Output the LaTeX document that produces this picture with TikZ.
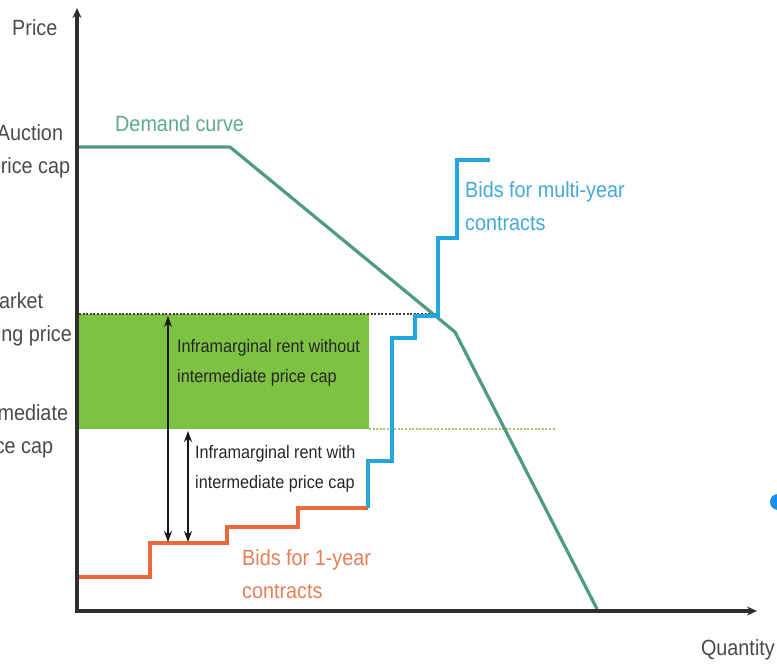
\documentclass[tikz,border=0pt]{standalone}
\usepackage{fontspec}
\setmainfont[FakeStretch=0.9]{Liberation Sans}
\usetikzlibrary{arrows.meta}

\definecolor{axisgray}{HTML}{2E2E2E}
\definecolor{labelgray}{HTML}{4A4A4A}
\definecolor{demandteal}{HTML}{4E9A82}
\definecolor{demandtext}{HTML}{5FA894}
\definecolor{bidblue}{HTML}{22A6DF}
\definecolor{bidbluetext}{HTML}{44A8D8}
\definecolor{bidorange}{HTML}{E8693A}
\definecolor{bidorangetext}{HTML}{E48058}
\definecolor{rentgreen}{HTML}{7DC243}
\definecolor{capdots}{HTML}{A9C46C}
\definecolor{dotblue}{HTML}{1A8FE8}

\tikzset{
  axisline/.style={line width=3.4pt, draw=axisgray, -{Stealth[length=10pt,width=9pt]}},
  curve/.style={line width=3.2pt, line join=miter},
  levelline/.style={line width=2.6pt, dash pattern=on 2pt off 1.6pt},
  biglabel/.style={inner sep=0pt, font=\fontsize{22}{33}\selectfont},
  smalllabel/.style={inner sep=0pt, align=left, anchor=north west,
    text=black!85, font=\fontsize{18}{30}\selectfont},
  sidelabel/.style={biglabel, align=center, anchor=north, text=labelgray},
  rentarrow/.style={line width=1.7pt, draw=black!90,
    {Stealth[length=11pt,width=8pt]}-{Stealth[length=11pt,width=8pt]}},
}

\begin{document}
\begin{tikzpicture}[x=1pt,y=-1pt]
\useasboundingbox (0,0) rectangle (777,664);

% inframarginal rent area between clearing price and intermediate cap
\fill[rentgreen] (79,314) rectangle (369,429);

% price levels
\coordinate (clearL) at (79,314);
\coordinate (clearR) at (438,314);
\coordinate (capL) at (369,429);
\coordinate (capR) at (555,429);
\draw[levelline, draw=black!75] (clearL) -- (clearR);
\draw[levelline, draw=capdots] (capL) -- (capR);

% demand curve
\draw[curve, draw=demandteal] (79,147) -- (230,147) -- (455,332) -- (597,609);

% bids for 1-year contracts
\draw[curve, draw=bidorange] (79,577) -- (150,577) -- (150,543) -- (227,543)
  -- (227,527) -- (298,527) -- (298,508) -- (368,508);

% bids for multi-year contracts
\draw[curve, draw=bidblue] (368,508) -- (368,461) -- (392,461) -- (392,338)
  -- (415,338) -- (415,316) -- (438,316) -- (438,238) -- (457,238)
  -- (457,160) -- (490,160);

% axes
\coordinate (origin) at (77,611);
\coordinate (ytip) at (77,8);
\coordinate (xtip) at (757,611);
\draw[axisline] (77,613) -- (ytip);
\draw[axisline] (76,611) -- (xtip);

% rent arrows
\coordinate (rentAtop) at (168,316);
\coordinate (rentAbot) at (168,542);
\coordinate (rentBtop) at (188,431);
\coordinate (rentBbot) at (188,542);
\draw[rentarrow] (rentAtop) -- (rentAbot);
\draw[rentarrow] (rentBtop) -- (rentBbot);

% axis titles
\node[biglabel, anchor=north west, text=labelgray] (price) at (12,19) {Price};
\node[biglabel, anchor=north east, text=labelgray] (quantity) at (775,639) {Quantity};

% price level labels
\node[sidelabel] (auctioncap) at (30,124) {Auction\\price cap};
\node[sidelabel] (clearing) at (13,292) {Market\\clearing price};
\node[sidelabel] (intercap) at (13,404) {Intermediate\\price cap};

% curve labels
\node[biglabel, anchor=north west, text=demandtext] (demandlbl) at (115,115) {Demand curve};
\node[biglabel, anchor=north west, align=left, text=bidbluetext] (multilbl) at (465,181)
  {Bids for multi-year\\contracts};
\node[biglabel, anchor=north west, align=left, text=bidorangetext] (onelbl) at (242,549)
  {Bids for 1-year\\contracts};

% rent labels
\node[smalllabel] (rentwithout) at (177,339) {Inframarginal rent without\\intermediate price cap};
\node[smalllabel] (rentwith) at (195,445) {Inframarginal rent with\\intermediate price cap};

% marker at the right edge
\fill[dotblue] (778,502) circle (8);
\end{tikzpicture}
\end{document}
